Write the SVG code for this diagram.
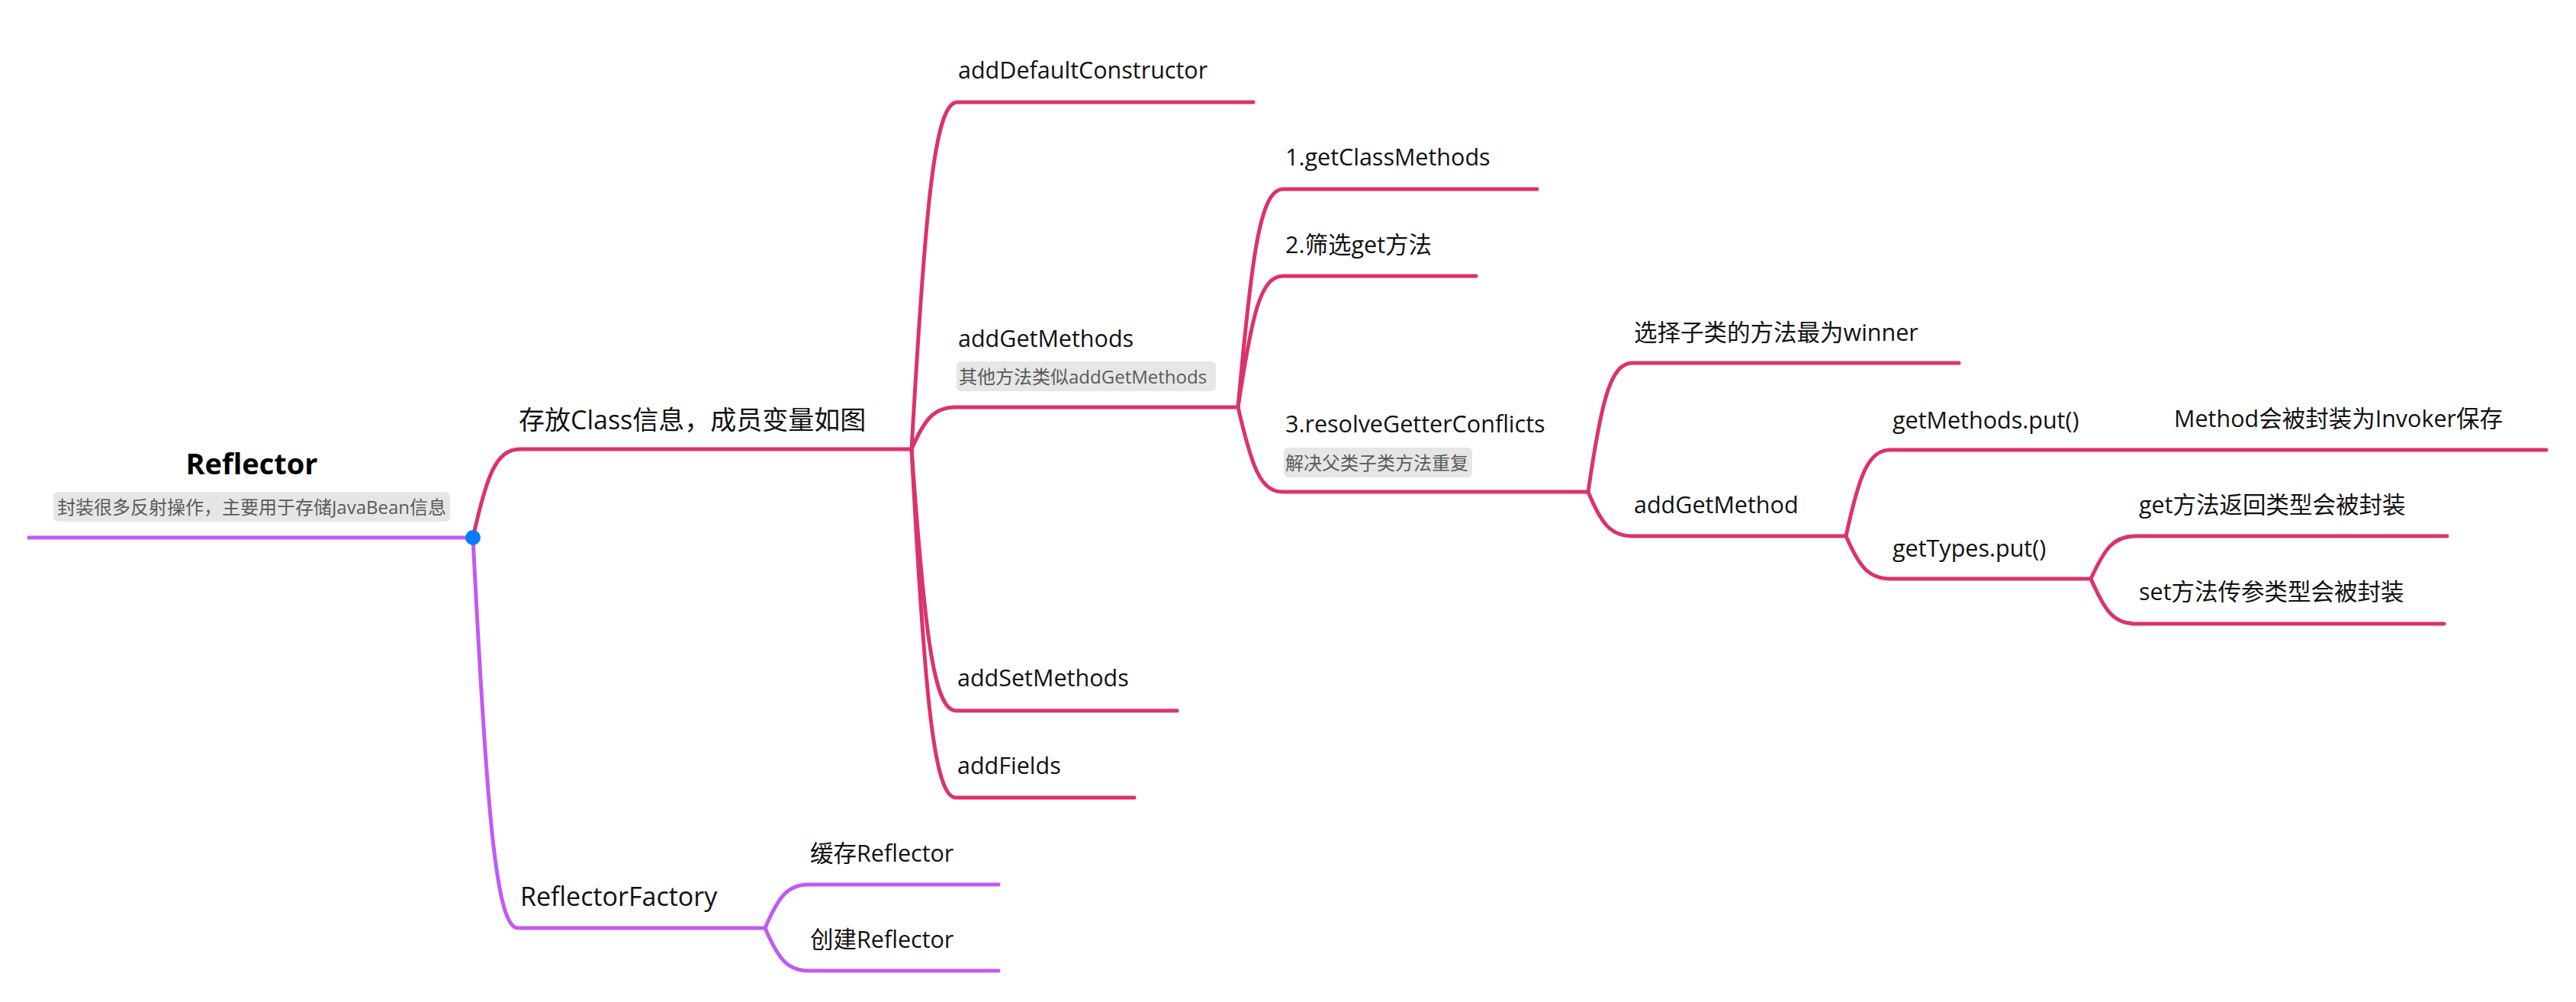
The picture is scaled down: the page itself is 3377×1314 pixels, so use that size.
<svg xmlns="http://www.w3.org/2000/svg" width="3377" height="1314" viewBox="0 0 3377 1314">
<style>
.t{font-family:"Open Sans","Noto Sans CJK SC",sans-serif;fill:#111;}
.l1{font-size:34px;}
.l2{font-size:30.5px;}
.sub{font-family:"Open Sans","Noto Sans CJK SC",sans-serif;font-size:24px;fill:#5a5a5a;}
.box{fill:#e6e6e6;}
.m{fill:none;stroke:#DC326E;stroke-width:5;stroke-linecap:round;stroke-linejoin:round;}
.p{fill:none;stroke:#C15AF2;stroke-width:5;stroke-linecap:round;stroke-linejoin:round;}
</style>
<rect width="3377" height="1314" fill="#ffffff"/>
<g id="connectors">
<path class="p" d="M38 705 L620 705"/>
<path class="m" d="M620 705 C638 624 650 589 682 589 L1195 589"/>
<path class="p" d="M620 705 C638 1063 650 1217 679 1217 L1003 1217"/>
<path class="m" d="M1195 589 C1213 271 1225 134 1255 134 L1643 134"/>
<path class="m" d="M1195 589 C1212 550 1224 534 1253 534 L1623 534"/>
<path class="m" d="M1195 589 C1212 829 1224 932 1253 932 L1543 932"/>
<path class="m" d="M1195 589 C1212 909 1224 1046 1253 1046 L1487 1046"/>
<path class="m" d="M1623 534 C1641 334 1652 248 1682 248 L2015 248"/>
<path class="m" d="M1623 534 C1641 414 1652 362 1682 362 L1935 362"/>
<path class="m" d="M1623 534 C1641 612 1652 645 1682 645 L2082 645"/>
<path class="m" d="M2082 645 C2099 527 2111 476 2140 476 L2568 476"/>
<path class="m" d="M2082 645 C2099 686 2111 703 2140 703 L2420 703"/>
<path class="m" d="M2420 703 C2437 624 2449 590 2478 590 L3338 590"/>
<path class="m" d="M2420 703 C2437 742 2449 759 2478 759 L2741 759"/>
<path class="m" d="M2741 759 C2759 720 2770 703 2800 703 L3208 703"/>
<path class="m" d="M2741 759 C2759 800 2770 818 2800 818 L3204 818"/>
<path class="p" d="M1003 1217 C1020 1177 1032 1160 1060 1160 L1309 1160"/>
<path class="p" d="M1003 1217 C1020 1257 1032 1273 1060 1273 L1309 1273"/>
</g>
<g id="root">
<text x="330" y="622" text-anchor="middle" font-family="Open Sans, Noto Sans CJK SC, sans-serif" font-weight="bold" font-size="38" fill="#000">Reflector</text>
<rect class="box" x="70" y="645" width="520" height="39" rx="6"/>
<text class="sub" x="330" y="674" text-anchor="middle">封装很多反射操作，主要用于存储JavaBean信息</text>
<circle cx="620" cy="705" r="10" fill="#0D7BFF"/>
</g>
<g id="n-class"><text class="t l1" x="680" y="563">存放Class信息，成员变量如图</text></g>
<g id="n-factory"><text class="t l1" x="682" y="1188">ReflectorFactory</text></g>
<g id="n-adc"><text class="t l2" x="1256" y="103">addDefaultConstructor</text></g>
<g id="n-agm">
<text class="t l2" x="1256" y="455">addGetMethods</text>
<rect class="box" x="1254" y="474" width="340" height="39" rx="6"/>
<text class="sub" x="1257" y="503">其他方法类似addGetMethods</text>
</g>
<g id="n-asm"><text class="t l2" x="1255" y="900">addSetMethods</text></g>
<g id="n-af"><text class="t l2" x="1255" y="1015">addFields</text></g>
<g id="n-gcm"><text class="t l2" x="1685" y="217">1.getClassMethods</text></g>
<g id="n-filter"><text class="t l2" x="1685" y="332">2.筛选get方法</text></g>
<g id="n-resolve">
<text class="t l2" x="1685" y="567">3.resolveGetterConflicts</text>
<rect class="box" x="1683" y="587" width="247" height="39" rx="6"/>
<text class="sub" x="1685" y="616">解决父类子类方法重复</text>
</g>
<g id="n-winner"><text class="t l2" x="2142" y="447">选择子类的方法最为winner</text></g>
<g id="n-addgetmethod"><text class="t l2" x="2142" y="673">addGetMethod</text></g>
<g id="n-getmethodsput"><text class="t l2" x="2481" y="562">getMethods.put()</text></g>
<g id="n-invoker"><text class="t l2" x="2850" y="560">Method会被封装为Invoker保存</text></g>
<g id="n-gettypesput"><text class="t l2" x="2481" y="730">getTypes.put()</text></g>
<g id="n-getret"><text class="t l2" x="2804" y="673">get方法返回类型会被封装</text></g>
<g id="n-setparam"><text class="t l2" x="2804" y="787">set方法传参类型会被封装</text></g>
<g id="n-cache"><text class="t l2" x="1062" y="1130">缓存Reflector</text></g>
<g id="n-create"><text class="t l2" x="1062" y="1243">创建Reflector</text></g>
</svg>
